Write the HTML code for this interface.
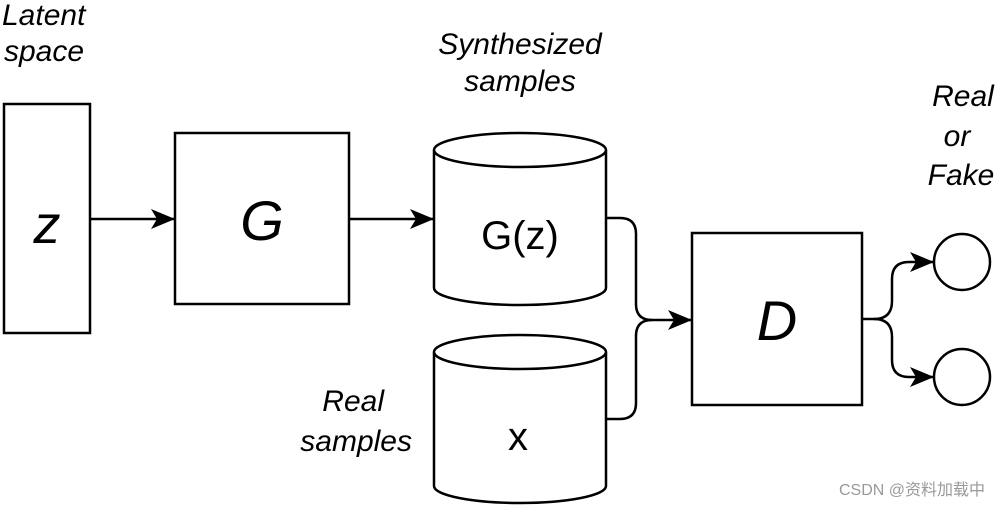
<!DOCTYPE html>
<html><head><meta charset="utf-8"><style>
html,body{margin:0;padding:0;background:#fff;}
svg{display:block;}
text{font-family:"Liberation Sans",Arial,sans-serif;fill:#000;}
.i{font-style:italic;}
</style></head><body>
<svg width="1000" height="507" viewBox="0 0 1000 507" xmlns="http://www.w3.org/2000/svg">
<defs><marker id="a" markerWidth="24" markerHeight="20" refX="23" refY="10" orient="auto" markerUnits="userSpaceOnUse"><path d="M0,0 L24,10 L0,20 L6,10 Z" fill="#000"/></marker></defs>
<g fill="#fff" stroke="#000" stroke-width="2.5">
<rect x="4" y="104" width="86" height="229"/>
<rect x="175" y="133" width="174" height="171"/>
<rect x="692" y="233" width="170" height="172"/>
<path d="M434,150 L434,288 A86,17 0 0 0 606,288 L606,150"/>
<ellipse cx="520" cy="150" rx="86" ry="17"/>
<path d="M434,352 L434,486 A86,17 0 0 0 606,486 L606,352"/>
<ellipse cx="520" cy="352" rx="86" ry="17"/>
<circle cx="962" cy="262" r="28"/>
<circle cx="962" cy="377" r="28"/>
</g>
<g fill="none" stroke="#000" stroke-width="2.5">
<path d="M90,219 L174,219" marker-end="url(#a)"/>
<path d="M349,219 L433,219" marker-end="url(#a)"/>
<path d="M606,218 L620,218 Q636,218 636,234 L636,304 Q636,320 652,320 L691,320" marker-end="url(#a)"/>
<path d="M606,419 L620,419 Q636,419 636,403 L636,336 Q636,320 652,320"/>
<path d="M862,319 L874,319 Q892,319 892,301 L892,279 Q892,262 909,262 L933,262" marker-end="url(#a)"/>
<path d="M874,319 Q892,319 892,337 L892,360 Q892,377 909,377 L933,377" marker-end="url(#a)"/>
</g>
<text class="i" x="2" y="25" font-size="30">Latent</text>
<text class="i" x="4" y="61" font-size="30">space</text>
<text class="i" x="520" y="54" font-size="30" text-anchor="middle">Synthesized</text>
<text class="i" x="520" y="91" font-size="30" text-anchor="middle">samples</text>
<text class="i" x="963" y="106" font-size="30" text-anchor="middle">Real</text>
<text class="i" x="957" y="146" font-size="30" text-anchor="middle">or</text>
<text class="i" x="961" y="185" font-size="30" text-anchor="middle">Fake</text>
<text class="i" x="384" y="411" font-size="30" text-anchor="end">Real</text>
<text class="i" x="412" y="451" font-size="30" text-anchor="end">samples</text>
<text class="i" x="47" y="243" font-size="54" text-anchor="middle">z</text>
<text class="i" x="262" y="240" font-size="56" text-anchor="middle">G</text>
<text class="i" x="777" y="340" font-size="56" text-anchor="middle">D</text>
<text x="520" y="249" font-size="40" text-anchor="middle">G(z)</text>
<text x="518" y="450" font-size="40" text-anchor="middle">x</text>
<text x="985" y="495" font-size="16" text-anchor="end" style="fill:#999;font-family:'Liberation Sans','Noto Sans CJK SC',sans-serif">CSDN @资料加载中</text>
</svg>
</body></html>
